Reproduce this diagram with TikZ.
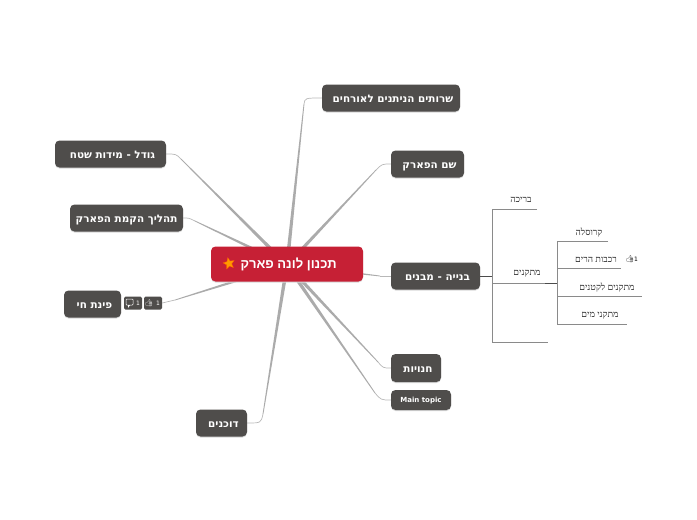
\documentclass[tikz,border=0pt]{standalone}
\usepackage{fontspec}
\setmainfont{DejaVu Sans}
\newfontfamily\hebb[Script=Hebrew]{DejaVu Sans}
\newfontfamily\hebs[Script=Hebrew]{Liberation Sans}
\newfontfamily\hebd[Script=Hebrew]{Liberation Serif}
\newfontfamily\emo{Noto Emoji}
\TeXXeTstate=1
\usetikzlibrary{shapes.geometric,shadows,backgrounds,calc}
\definecolor{topicbg}{HTML}{4F4D4B}
\definecolor{rootbg}{HTML}{C62035}
\definecolor{linec}{HTML}{ABABAB}
\definecolor{treec}{HTML}{8A8A8A}
\newcommand{\hb}[1]{\beginR #1\endR}
\newcommand{\hbt}[1]{\kern4pt\beginR #1\endR}
\newcommand{\branch}[3]{%
  \fill[linec] ($(ctr)!1.9pt!90:(#1)$) -- ($(#1)!0.4pt!-90:(ctr)$) -- ($(#1)!0.4pt!90:(ctr)$) -- ($(ctr)!1.9pt!-90:(#1)$) -- cycle;
  \draw[thinl] (#1) .. controls (#2) .. (#3);}
\tikzset{
  topic/.style={rectangle,rounded corners=4.5pt,fill=topicbg,text=white,inner sep=0pt,
    text height=9pt,text depth=0pt,
    copy shadow={shadow xshift=0pt,shadow yshift=-1pt,fill=black!15,draw=none},
    font={\hebb\bfseries\fontsize{10.4}{12}\selectfont}},
  root/.style={topic,fill=rootbg},
  rootlabel/.style={inner sep=0pt,text=white,font={\hebs\bfseries\fontsize{13}{15}\selectfont}},
  thinl/.style={draw=linec!85,line width=0.7pt},
  treel/.style={draw=treec,line width=0.7pt},
  treeb/.style={draw=black!70,line width=0.9pt},
  leaf/.style={inner sep=0pt,text=black!85,font={\hebd\fontsize{9.2}{10}\selectfont}},
  badge/.style={rectangle,rounded corners=1.5pt,fill=topicbg,inner sep=0pt,minimum width=18pt,minimum height=13pt},
  tiny/.style={inner sep=0pt,font=\fontsize{6}{7}\selectfont},
}
\begin{document}
\begin{tikzpicture}[x=1pt,y=-1pt]
\useasboundingbox (0,0) rectangle (697,520);
\coordinate (ctr) at (287,265);
\coordinate (bs) at (304,104);
\coordinate (cs) at (305,98);
\coordinate (bh) at (376,170);
\coordinate (ch) at (382,164);
\coordinate (bn) at (380,276);
\coordinate (cn) at (385,276);
\coordinate (bc) at (378,362);
\coordinate (cc) at (383,368);
\coordinate (bm) at (375,393);
\coordinate (cm) at (381,400);
\coordinate (bd) at (263,414);
\coordinate (cd) at (261,423);
\coordinate (bg) at (181,159);
\coordinate (cg) at (176,154);
\coordinate (bt) at (195,221);
\coordinate (ct) at (189,218);

\node[root,minimum width=152pt,minimum height=35pt] (root) at (287,264) {};
\node[rootlabel,anchor=east] (roottext) at (337,264) {\hb{תכנון לונה פארק}};
\node[star,star points=5,star point ratio=2.2,rotate=12,fill=orange!80!yellow,draw=orange!70!red,line width=0.3pt,inner sep=0pt,minimum size=12pt] (rootstar) at (229,263.5) {};

\node[topic,minimum width=138pt,minimum height=27pt] (srv) at (391,98) {\hbt{שרותים הניתנים לאורחים}};
\node[topic,minimum width=73pt,minimum height=27pt] (shem) at (427.5,164) {\hbt{שם הפארק}};
\node[topic,minimum width=89pt,minimum height=27pt] (bny) at (435.5,276) {\hbt{בנייה - מבנים}};
\node[topic,minimum width=50pt,minimum height=28pt] (hnt) at (416,368) {\hbt{חנויות}};
\node[topic,minimum width=60pt,minimum height=20pt,text height=5.5pt,font={\bfseries\fontsize{7}{8}\selectfont}] (mt) at (421,400) {Main topic};
\node[topic,minimum width=51pt,minimum height=27pt] (dkn) at (221.5,423) {\hbt{דוכנים}};
\node[topic,minimum width=57pt,minimum height=27pt] (pnt) at (92.5,304) {\hbt{פינת חי}};
\node[topic,minimum width=113pt,minimum height=27pt] (thl) at (126.5,218) {\hb{תהליך הקמת הפארק}};
\node[topic,minimum width=111pt,minimum height=27pt] (gdl) at (110.5,154) {\hbt{גודל - מידות שטח}};

\node[badge] (bcm) at (133,303) {};
\node[badge] (bth) at (153,303) {};
\node[tiny,text=white] (ncm) at (138,303) {1};
\node[tiny,text=white] (nth) at (158,303) {1};
\node[inner sep=0pt,text=white,font={\emo\fontsize{7}{8}\selectfont}] (ith) at (149,303) {\symbol{"1F44D}};
\draw[white,line width=0.5pt,rounded corners=0.8pt] (126,299) rectangle (133,305);
\fill[white] (128,305) -- (130,305) -- (128,308) -- cycle;

\begin{pgfonlayer}{background}
\branch{bs}{cs}{srv.west}
\branch{bh}{ch}{shem.west}
\branch{bn}{cn}{bny.west}
\branch{bc}{cc}{hnt.west}
\branch{bm}{cm}{mt.west}
\branch{bd}{cd}{dkn.east}
\branch{bg}{cg}{gdl.east}
\branch{bt}{ct}{thl.east}
\coordinate (bp) at (175,300);
\fill[linec] ($(ctr)!1.9pt!90:(bp)$) -- ($(bp)!0.4pt!-90:(ctr)$) -- ($(bp)!0.4pt!90:(ctr)$) -- ($(ctr)!1.9pt!-90:(bp)$) -- cycle;
\draw[thinl] (bp) -- (bth.east);
\end{pgfonlayer}

\coordinate (t1) at (492,276);
\coordinate (v1a) at (492,209);
\coordinate (v1b) at (492,342);
\coordinate (h1a) at (537,209);
\coordinate (m1) at (492,283);
\coordinate (h1b) at (545,283);
\coordinate (v2) at (557,283);
\coordinate (h1c) at (548,342);
\coordinate (v2a) at (557,241);
\coordinate (v2b) at (557,268);
\coordinate (v2c) at (557,296);
\coordinate (v2d) at (557,324);
\coordinate (e2a) at (608,241);
\coordinate (e2b) at (621,268);
\coordinate (e2c) at (642,296);
\coordinate (e2d) at (627,324);
\draw[treeb] (bny.east) -- (t1);
\draw[treel] (h1a) -- (v1a) -- (v1b) -- (h1c);
\draw[treel] (m1) -- (h1b);
\draw[treeb] (h1b) -- (v2);
\draw[treel] (e2a) -- (v2a) -- (v2d) -- (e2d);
\draw[treel] (v2b) -- (e2b);
\draw[treel] (v2c) -- (e2c);
\node[leaf] (l1) at (521,200) {\hb{בריכה}};
\node[leaf] (l2) at (527,274) {\hb{מתקנים}};
\node[leaf] (l3) at (589,233) {\hb{קרוסלה}};
\node[leaf] (l4) at (596,260) {\hb{רכבות הרים}};
\node[leaf] (l5) at (607,288) {\hb{מתקנים לקטנים}};
\node[leaf] (l6) at (600,316) {\hb{מתקני  מים}};
\node[inner sep=0pt,font={\emo\fontsize{7}{8}\selectfont}] (l4i) at (630,259) {\symbol{"1F44D}};
\node[tiny] (l4n) at (636,259) {1};
\end{tikzpicture}
\end{document}
